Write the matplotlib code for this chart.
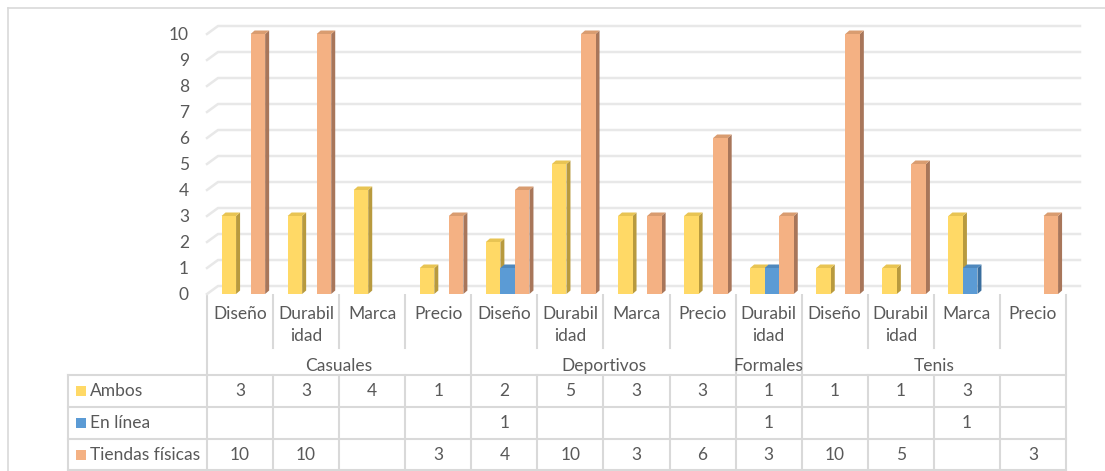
import matplotlib
matplotlib.use("Agg")
import matplotlib.pyplot as plt
from matplotlib.patches import Polygon, Rectangle
import numpy as np

plt.rcParams['font.family'] = ['Lato', 'DejaVu Sans']

# Datos: tipo de calzado -> factor de compra, por canal
grupos = ["Casuales", "Deportivos", "Formales", "Tenis"]
subcategorias = [
    ["Diseño", "Durabil\nidad", "Marca", "Precio"],
    ["Diseño", "Durabil\nidad", "Marca", "Precio"],
    ["Durabil\nidad"],
    ["Diseño", "Durabil\nidad", "Marca", "Precio"],
]
series = ["Ambos", "En línea", "Tiendas físicas"]
nan = np.nan
ambos = [3, 3, 4, 1, 2, 5, 3, 3, 1, 1, 1, 3, nan]
en_linea = [nan, nan, nan, nan, 1, nan, nan, nan, 1, nan, nan, 1, nan]
tiendas = [10, 10, nan, 3, 4, 10, 3, 6, 3, 10, 5, nan, 3]

valores = [ambos, en_linea, tiendas]
color_frente = ["#FFD966", "#5B9BD5", "#F4B183"]
color_lado = ["#B89A3E", "#3A6E9E", "#A8765A"]
color_tapa = ["#E8C453", "#4F88BD", "#D99C70"]
texto = "#595959"
linea = "#D9D9D9"

W, H = 1105, 471
fig = plt.figure(figsize=(W / 100, H / 100), dpi=100)

# zona de trazado en pixeles
x0, x1 = 207, 1066
y_cero, y_diez = 294, 34
ax = fig.add_axes([x0 / W, 1 - y_cero / H, (x1 - x0) / W, (y_cero - y_diez) / H])
n = len(ambos)
ax.set_xlim(-0.5, n - 0.5)
ax.set_ylim(0, 10)
for s in ax.spines.values():
    s.set_visible(False)
ax.set_xticks([])
ax.set_yticks(range(11))
ax.tick_params(axis='y', length=0, pad=13, labelsize=12.5, labelcolor=texto)

px_x = (n) / (x1 - x0)          # unidades de categoria por pixel
px_y = 10 / (y_cero - y_diez)   # unidades de valor por pixel

# lineas de division con perspectiva
gdx, gdy = 11 * px_x, 8 * px_y
x_fin = (1080 - x0) * px_x - 0.5
for v in range(11):
    ax.plot([-0.5, -0.5 + gdx, x_fin], [v, v + gdy, v + gdy],
            color="#E8E8E8", lw=1.8, zorder=0, clip_on=False)

# columnas 3D
ancho = 0.22
desp = [-0.17, 0.05, 0.27]
bdx, bdy = 4 * px_x, 3.5 * px_y
for i in range(n):
    for j in range(3):
        v = valores[j][i]
        if np.isnan(v):
            continue
        xl = i + desp[j] - ancho / 2
        xr = xl + ancho
        z = 2 + i * 3 + j
        ax.add_patch(Polygon([(xr, 0), (xr + bdx, bdy), (xr + bdx, v + bdy), (xr, v)],
                             closed=True, fc=color_lado[j], ec="none", zorder=z, clip_on=False))
        ax.add_patch(Polygon([(xl, v), (xr, v), (xr + bdx, v + bdy), (xl + bdx, v + bdy)],
                             closed=True, fc=color_tapa[j], ec="none", zorder=z, clip_on=False))
        ax.add_patch(Rectangle((xl, 0), ancho, v, fc=color_frente[j], ec="none",
                               zorder=z + 0.5, clip_on=False))

# capa para etiquetas de categorias y tabla de datos
ov = fig.add_axes([0, 0, 1, 1], zorder=-1)
ov.set_xlim(0, W)
ov.set_ylim(H, 0)
ov.axis('off')

# borde del area del grafico
ov.plot([8, W], [8, 8], color=linea, lw=1.2)
ov.plot([8, 8], [8, H], color=linea, lw=1.2)

cw = (x1 - x0) / n
bordes = [x0 + k * cw for k in range(n + 1)]
fs = 12.5

# limites de grupo
lim_grupo = [0]
for sc in subcategorias:
    lim_grupo.append(lim_grupo[-1] + len(sc))

for k, xb in enumerate(bordes):
    if k in lim_grupo:
        ov.plot([xb, xb], [295, 470], color=linea, lw=1.5)
    else:
        ov.plot([xb, xb], [295, 348], color=linea, lw=1.5)
        ov.plot([xb, xb], [375, 470], color=linea, lw=1.5)

etiquetas = [e for sc in subcategorias for e in sc]
for i, et in enumerate(etiquetas):
    cx = (bordes[i] + bordes[i + 1]) / 2
    for k, parte in enumerate(et.split("\n")):
        ov.text(cx, 314 + 22 * k, parte, ha='center', va='center', fontsize=fs, color=texto)

for g, nombre in enumerate(grupos):
    cx = (bordes[lim_grupo[g]] + bordes[lim_grupo[g + 1]]) / 2
    ov.text(cx, 366, nombre, ha='center', va='center', fontsize=fs, color=texto)

# tabla de datos
filas = [375, 407, 439, 470]
ov.plot([68, 68], [375, 470], color=linea, lw=1.5)
for yf in filas:
    ov.plot([68, x1], [yf, yf], color=linea, lw=1.5)
for j, nombre in enumerate(series):
    cy = (filas[j] + filas[j + 1]) / 2
    ov.add_patch(Rectangle((76, cy - 5), 10, 10, fc=color_frente[j], ec="none"))
    ov.text(90, cy, nombre, ha='left', va='center', fontsize=fs, color=texto)
    for i in range(n):
        v = valores[j][i]
        if np.isnan(v):
            continue
        cx = (bordes[i] + bordes[i + 1]) / 2
        ov.text(cx, cy, f"{int(v)}", ha='center', va='center', fontsize=fs, color=texto)

fig.savefig("out.png", dpi=100, facecolor="white")
